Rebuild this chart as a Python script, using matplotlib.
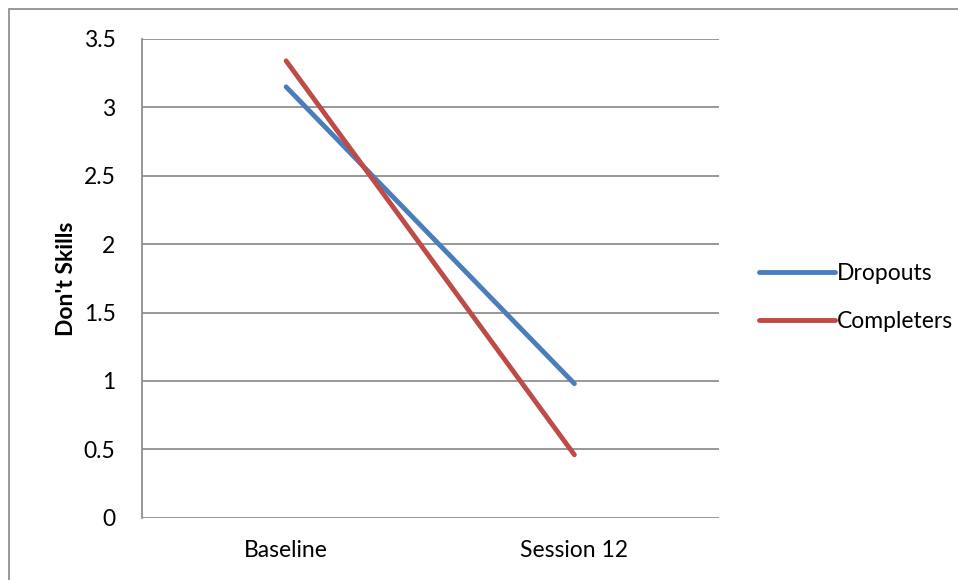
import matplotlib.pyplot as plt
from matplotlib.patches import Rectangle

categories = ["Baseline", "Session 12"]
dropouts = [3.15, 0.98]
completers = [3.34, 0.46]
yticks = [0, 0.5, 1, 1.5, 2, 2.5, 3, 3.5]

plt.rcParams['font.family'] = ['Lato', 'DejaVu Sans']

fig = plt.figure(figsize=(9.58, 5.80), dpi=100)
ax = fig.add_axes([0.1482, 0.1074, 0.6018, 0.8254])

x = range(len(categories))
ax.plot(x, dropouts, color="#4A7EBB", lw=3.5, solid_capstyle="round", label="Dropouts")
ax.plot(x, completers, color="#BE4B48", lw=3.5, solid_capstyle="round", label="Completers")

ax.set_xlim(-0.5, 1.5)
ax.set_ylim(0, 3.5)
ax.set_yticks(yticks)
ax.set_yticklabels([f"{v:g}" for v in yticks])
ax.set_xticks(list(x))
ax.set_xticklabels(categories)
ax.tick_params(length=0, labelsize=16.5, pad=19)
ax.tick_params(axis="x", pad=16)
ax.yaxis.grid(True, color="#868686", lw=1.2)
ax.set_axisbelow(True)
for s in ["top", "right", "bottom"]:
    ax.spines[s].set_visible(False)
ax.spines["left"].set_color("#868686")
ax.spines["left"].set_linewidth(1.2)
ax.set_ylabel("Don't Skills", fontsize=16.5, fontweight="bold", labelpad=5)

leg = ax.legend(loc="center left", bbox_to_anchor=(1.035, 0.46), frameon=False,
                fontsize=16.5, handlelength=3.3, handletextpad=0.1, labelspacing=1.15)

fig.patches.append(Rectangle((9 / 958, -0.1), 1.1, 1 - 9 / 580 + 0.1, transform=fig.transFigure,
                             fill=False, edgecolor="#868686", lw=1.2))

fig.savefig("out.png", dpi=100)
